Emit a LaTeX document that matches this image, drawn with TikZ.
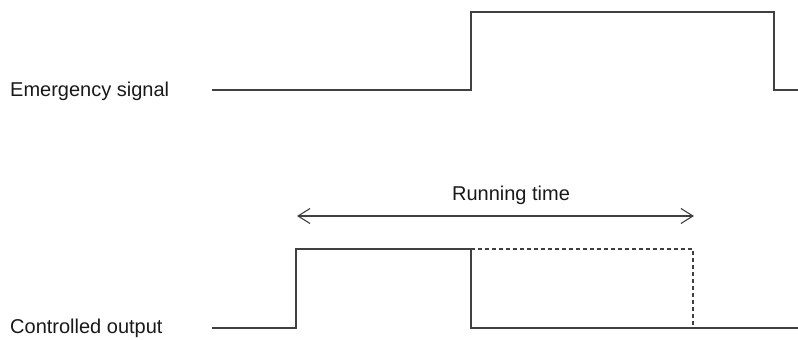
\documentclass[tikz,border=0pt]{standalone}
\usepackage{fontspec}
\setmainfont{Liberation Sans}
\usetikzlibrary{arrows.meta}

\begin{document}
\begin{tikzpicture}[
    x=1pt, y=-1pt,
    label/.style={anchor=west, inner sep=0pt, font=\fontsize{20}{23}\selectfont, text=black!90},
    signal/.style={draw=black!75, line width=1.3pt, line join=miter},
    future/.style={signal, dash pattern=on 4pt off 3pt},
    span/.style={{Straight Barb[length=12pt,width=15pt]}-{Straight Barb[length=12pt,width=15pt]}, draw=black!75, line width=1.1pt}
  ]
    \useasboundingbox (0,0) rectangle (798,340);

    % Nodes
    \node[label] (emerg) at (10,91) {Emergency signal};
    \node[label] (ctrl) at (10,328) {Controlled output};
    \node[label, anchor=center] (runtime) at (511,195) {Running time};

    % Waveform corners
    \coordinate (e0) at (212,90);
    \coordinate (e1) at (471,90);
    \coordinate (e2) at (471,12);
    \coordinate (e3) at (774,12);
    \coordinate (e4) at (774,90);
    \coordinate (e5) at (798,90);

    \coordinate (c0) at (212,328);
    \coordinate (c1) at (296,328);
    \coordinate (c2) at (296,249);
    \coordinate (c3) at (471,249);
    \coordinate (c4) at (471,328);
    \coordinate (c5) at (798,328);
    \coordinate (c6) at (693,249);
    \coordinate (c7) at (693,328);

    \coordinate (rstart) at (297,216);
    \coordinate (rend) at (694,216);

    % Signals
    \draw[signal] (e0) -- (e1) -- (e2) -- (e3) -- (e4) -- (e5);
    \draw[signal] (c0) -- (c1) -- (c2) -- (c3) -- (c4) -- (c5);
    \draw[future] (c3) -- (c6) -- (c7);

    % Arrows
    \draw[span] (rstart) -- (rend);
  \end{tikzpicture}
\end{document}
